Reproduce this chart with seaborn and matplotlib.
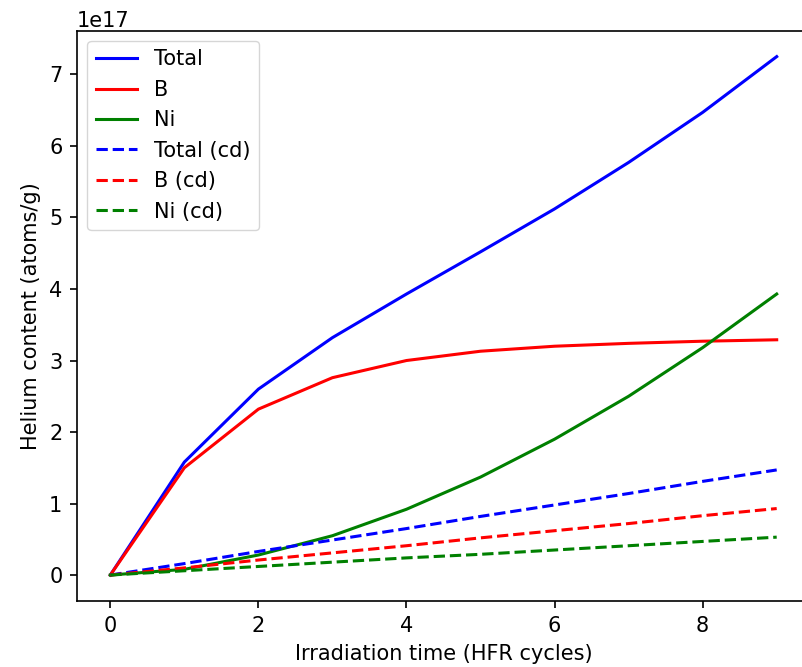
import pandas as pd
import matplotlib
matplotlib.use('Agg')
import matplotlib.pyplot as plt
import seaborn as sns

# Temps d'irradiation (cycles HFR)
cycles = [0, 1, 2, 3, 4, 5, 6, 7, 8, 9]

# Contenu en hélium (x 1e17 atomes/g)
total = [0, 1.58, 2.60, 3.32, 3.93, 4.52, 5.12, 5.77, 6.47, 7.25]
bore = [0, 1.50, 2.32, 2.76, 3.00, 3.13, 3.20, 3.24, 3.27, 3.29]
nickel = [0, 0.08, 0.28, 0.55, 0.92, 1.37, 1.90, 2.50, 3.18, 3.93]
total_cd = [0, 0.16, 0.33, 0.49, 0.65, 0.82, 0.98, 1.14, 1.31, 1.47]
bore_cd = [0, 0.10, 0.21, 0.31, 0.41, 0.52, 0.62, 0.72, 0.83, 0.93]
nickel_cd = [0, 0.06, 0.12, 0.18, 0.24, 0.29, 0.35, 0.41, 0.47, 0.53]

series = ['Total', 'B', 'Ni', 'Total (cd)', 'B (cd)', 'Ni (cd)']
valeurs = [total, bore, nickel, total_cd, bore_cd, nickel_cd]

rows = []
for nom, vals in zip(series, valeurs):
    for c, v in zip(cycles, vals):
        rows.append({'cycle': c, 'helium': v * 1e17, 'serie': nom})
df = pd.DataFrame(rows)

palette = {'Total': 'blue', 'B': 'red', 'Ni': 'green',
           'Total (cd)': 'blue', 'B (cd)': 'red', 'Ni (cd)': 'green'}
dashes = {'Total': '', 'B': '', 'Ni': '',
          'Total (cd)': (3.7, 1.6), 'B (cd)': (3.7, 1.6), 'Ni (cd)': (3.7, 1.6)}

# Figure rendue comme une figure à 150 dpi (tout est x1.5)
plt.rcParams.update({
    'font.size': 15,
    'axes.linewidth': 1.2,
    'xtick.major.size': 5.25, 'ytick.major.size': 5.25,
    'xtick.major.width': 1.2, 'ytick.major.width': 1.2,
    'xtick.major.pad': 5.25, 'ytick.major.pad': 5.25,
    'axes.labelpad': 6,
})
fig = plt.figure(figsize=(8.02, 6.67), dpi=100)
ax = fig.add_axes([0.096, 0.099, 0.914, 0.855])

sns.lineplot(data=df, x='cycle', y='helium', hue='serie', style='serie',
             palette=palette, dashes=dashes, hue_order=series, style_order=series,
             linewidth=2.2, ax=ax)

ax.set_xlabel('Irradiation time (HFR cycles)')
ax.set_ylabel('Helium content (atoms/g)')
ax.legend(loc='upper left', fontsize=15)

fig.savefig('out.png', dpi=100)
